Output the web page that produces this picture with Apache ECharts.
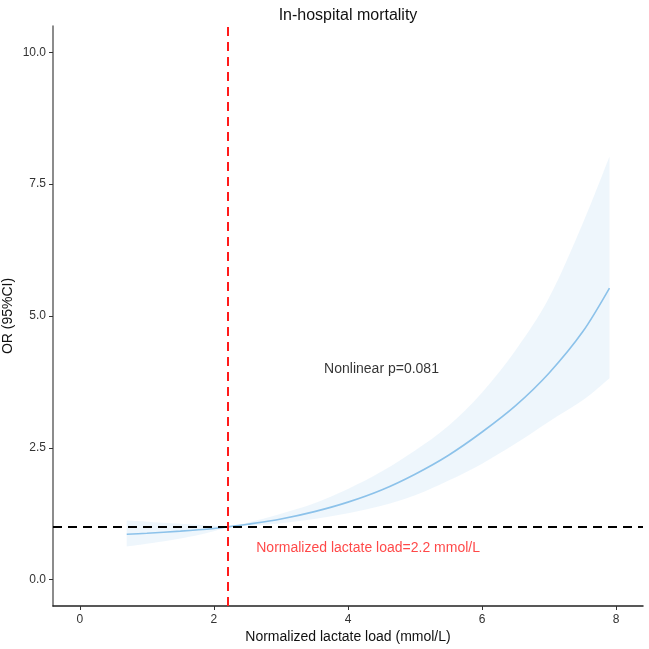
<!DOCTYPE html>
<html lang="en">
<head>
    <meta charset="UTF-8">
    <title>In-hospital mortality</title>
    <script src="https://cdn.jsdelivr.net/npm/echarts@6/dist/echarts.min.js"></script>
    <style>
    html, body { margin: 0; padding: 0; background: #fff; }
    #chart { width: 649px; height: 649px; }
    </style>
</head>
<body>
    <div id="chart"></div>
    <script>
        // lactate load (mmol/L) and the OR curve
        var lactate = [0.7, 1.0, 1.5, 2.0, 2.2, 2.5, 3.0, 3.5, 4.0, 4.5, 5.0, 5.5, 6.0, 6.5, 7.0, 7.5, 7.9];
        var orValue = [0.86, 0.88, 0.92, 0.97, 1.00, 1.05, 1.15, 1.29, 1.47, 1.70, 2.00, 2.36, 2.80, 3.30, 3.92, 4.70, 5.53];
        var ciLower = [0.63, 0.68, 0.78, 0.92, 1.00, 1.02, 1.07, 1.15, 1.26, 1.40, 1.60, 1.88, 2.20, 2.58, 3.00, 3.40, 3.82];
        var ciUpper = [1.12, 1.10, 1.06, 1.02, 1.00, 1.08, 1.25, 1.45, 1.72, 2.05, 2.45, 2.92, 3.55, 4.35, 5.35, 6.75, 8.02];

        var xTicks = [0, 2, 4, 6, 8];
        var yTicks = [0, 2.5, 5, 7.5, 10];

        var cutoff = 2.2;   // red reference line
        var refOR = 1;      // black reference line

        var noteP = { x: 4.5, y: 4, text: 'Nonlinear p=0.081' };
        var noteCut = { x: 4.3, y: 0.6, text: 'Normalized lactate load=2.2 mmol/L' };

        var lineData = lactate.map(function (x, i) { return [x, orValue[i]]; });

        // catmull-rom through pixel points -> svg cubic segments
        function curvePath(p) {
            var d = '';
            for (var i = 0; i < p.length - 1; i++) {
                var p0 = p[Math.max(i - 1, 0)], p1 = p[i], p2 = p[i + 1], p3 = p[Math.min(i + 2, p.length - 1)];
                var c1 = [p1[0] + (p2[0] - p0[0]) / 6, p1[1] + (p2[1] - p0[1]) / 6];
                var c2 = [p2[0] - (p3[0] - p1[0]) / 6, p2[1] - (p3[1] - p1[1]) / 6];
                d += ' C' + c1[0] + ',' + c1[1] + ' ' + c2[0] + ',' + c2[1] + ' ' + p2[0] + ',' + p2[1];
            }
            return d;
        }

        // confidence band drawn as one closed path through the axis scales
        function renderBand(params, api) {
            var up = [], lo = [];
            for (var i = 0; i < lactate.length; i++) up.push(api.coord([lactate[i], ciUpper[i]]));
            for (var j = lactate.length - 1; j >= 0; j--) lo.push(api.coord([lactate[j], ciLower[j]]));
            var d = 'M' + up[0][0] + ',' + up[0][1] + curvePath(up) +
                    ' L' + lo[0][0] + ',' + lo[0][1] + curvePath(lo) + ' Z';
            return {
                type: 'path',
                shape: { pathData: d },
                style: { fill: 'rgba(137,190,232,0.14)' }
            };
        }

        var txt = '#333333';
        var myChart = echarts.init(document.getElementById('chart'));
        var option = {
            animation: false,
            backgroundColor: '#ffffff',
            textStyle: { fontFamily: 'Liberation Sans, Arial, sans-serif' },
            title: {
                text: 'In-hospital mortality',
                left: 343, top: 3, textAlign: 'center',
                textStyle: { fontSize: 16, fontWeight: 'normal', color: '#111' }
            },
            grid: { left: 53, right: 6, top: 26, bottom: 43, outerBoundsMode: 'none' },
            xAxis: {
                type: 'value',
                min: -0.4, max: 8.4,
                name: 'Normalized lactate load (mmol/L)',
                nameLocation: 'middle', nameGap: 24,
                nameMoveOverlap: false,
                nameTextStyle: { fontSize: 14, color: '#111' },
                splitLine: { show: false },
                axisLine: { onZero: false, lineStyle: { color: '#222', width: 1.5 } },
                axisTick: { customValues: xTicks, length: 4, lineStyle: { color: '#333' } },
                axisLabel: { customValues: xTicks, color: txt, fontSize: 12, margin: 8 }
            },
            yAxis: {
                type: 'value',
                min: -0.5, max: 10.5,
                name: 'OR (95%CI)',
                nameLocation: 'middle', nameGap: 38,
                nameMoveOverlap: false,
                nameTextStyle: { fontSize: 14, color: '#111' },
                splitLine: { show: false },
                axisLine: { show: true, onZero: false, lineStyle: { color: '#666', width: 1.5 } },
                axisTick: { show: true, customValues: yTicks, length: 4, lineStyle: { color: '#333' } },
                axisLabel: {
                    customValues: yTicks, color: txt, fontSize: 12, margin: 7,
                    formatter: function (v) { return v.toFixed(1); }
                }
            },
            series: [
                {
                    name: 'band',
                    type: 'custom',
                    renderItem: renderBand,
                    data: [[lactate[0], ciLower[0]]],
                    silent: true,
                    clip: true,
                    z: 1
                },
                {
                    name: 'OR',
                    type: 'line',
                    data: lineData,
                    symbol: 'none',
                    smooth: 0.3,
                    lineStyle: { color: '#8CC2EA', width: 1.6 },
                    z: 2,
                    markLine: {
                        silent: true,
                        symbol: 'none',
                        label: { show: false },
                        data: [
                            { xAxis: cutoff, lineStyle: { color: '#FF1A1A', type: [9, 6], width: 2 } },
                            { yAxis: refOR, lineStyle: { color: '#000', type: [9, 6], width: 2 } }
                        ]
                    }
                },
                {
                    name: 'notes',
                    type: 'scatter',
                    symbolSize: 0,
                    silent: true,
                    z: 4,
                    data: [
                        { value: [noteP.x, noteP.y], label: { formatter: noteP.text, color: '#000' } },
                        { value: [noteCut.x, noteCut.y], label: { formatter: noteCut.text, color: '#FF1A1A' } }
                    ],
                    label: { show: true, position: 'inside', fontSize: 14, color: '#000' }
                }
            ]
        };
        myChart.setOption(option);
    </script>
</body>
</html>
